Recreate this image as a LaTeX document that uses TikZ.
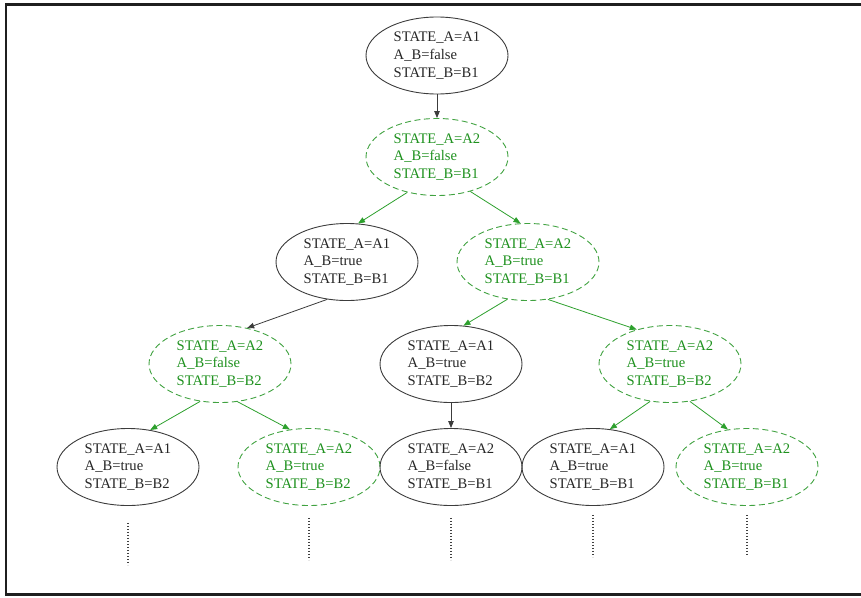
\documentclass[tikz,border=0pt]{standalone}
\usepackage{fontspec}
\setmainfont{Liberation Serif}
\usetikzlibrary{shapes.geometric,arrows.meta}
\definecolor{stgreen}{RGB}{30,145,30}
\definecolor{edgegreen}{RGB}{45,160,45}
\definecolor{stgray}{RGB}{60,60,60}
\tikzset{
  state/.style={ellipse, draw=stgray, line width=0.9pt, text=black!85,
    minimum width=142pt, minimum height=77pt, inner sep=0pt,
    align=left, font=\fontsize{14.6}{17.7}\selectfont},
  hyp/.style={state, draw=stgreen!85, text=stgreen, dashed,
    dash pattern=on 6pt off 3.5pt},
  blackedge/.style={draw=stgray, line width=0.8pt,
    -{Triangle[length=7pt,width=5.5pt]}},
  greenedge/.style={draw=edgegreen, line width=0.8pt,
    -{Triangle[length=7pt,width=5.5pt]}, color=edgegreen},
  dotline/.style={draw=black!75, line width=1.2pt,
    dash pattern=on 1.1pt off 1.9pt},
}
\newcommand{\st}[3]{STATE\_A=#1\\A\_B=#2\\STATE\_B=#3}
\begin{document}
\begin{tikzpicture}[x=1pt,y=-1pt]
  \useasboundingbox (0,0) rectangle (861,597);
  % outer frame (open on the right)
  \draw[line width=2.4pt, black!88] (875,4.5) -- (6,4.5) -- (6,594.5) -- (875,594.5);

  % level 0 and 1
  \node[state] (n1)  at (437,55.5) {\st{A1}{false}{B1}};
  \node[hyp]   (n2)  at (437,157)  {\st{A2}{false}{B1}};
  % level 2
  \node[state] (n3)  at (347,262)  {\st{A1}{true}{B1}};
  \node[hyp]   (n4)  at (528,262)  {\st{A2}{true}{B1}};
  % level 3
  \node[hyp]   (n5)  at (220,364)  {\st{A2}{false}{B2}};
  \node[state] (n6)  at (451,364)  {\st{A1}{true}{B2}};
  \node[hyp]   (n7)  at (670,364)  {\st{A2}{true}{B2}};
  % level 4
  \node[state] (n8)  at (128,467)  {\st{A1}{true}{B2}};
  \node[hyp]   (n9)  at (309,467)  {\st{A2}{true}{B2}};
  \node[state] (n10) at (451,467)  {\st{A2}{false}{B1}};
  \node[state] (n11) at (593,467)  {\st{A1}{true}{B1}};
  \node[hyp]   (n12) at (747,467)  {\st{A2}{true}{B1}};

  % transitions
  \draw[blackedge] (n1.south) -- (n2.north);
  \draw[greenedge] (n2.230) -- (n3.74);
  \draw[greenedge] (n2.314) -- (n4.101);
  \draw[blackedge] (n3.242) -- (n5.53);
  \draw[greenedge] (n4.241) -- (n6.72);
  \draw[greenedge] (n4.298) -- (n7.134);
  \draw[greenedge] (n5.242) -- (n8.59);
  \draw[greenedge] (n5.295) -- (n9.117);
  \draw[blackedge] (n6.south) -- (n10.north);
  \draw[greenedge] (n7.242) -- (n11.66);
  \draw[greenedge] (n7.298) -- (n12.117);

  % continuation marks below the leaves
  \draw[dotline] ([yshift=-17pt]n8.south)  -- ++(0,42);
  \draw[dotline] ([yshift=-12pt]n9.south)  -- ++(0,42);
  \draw[dotline] ([yshift=-12pt]n10.south) -- ++(0,42);
  \draw[dotline] ([yshift=-9pt]n11.south)  -- ++(0,42);
  \draw[dotline] ([yshift=-9pt]n12.south)  -- ++(0,40);
\end{tikzpicture}
\end{document}
